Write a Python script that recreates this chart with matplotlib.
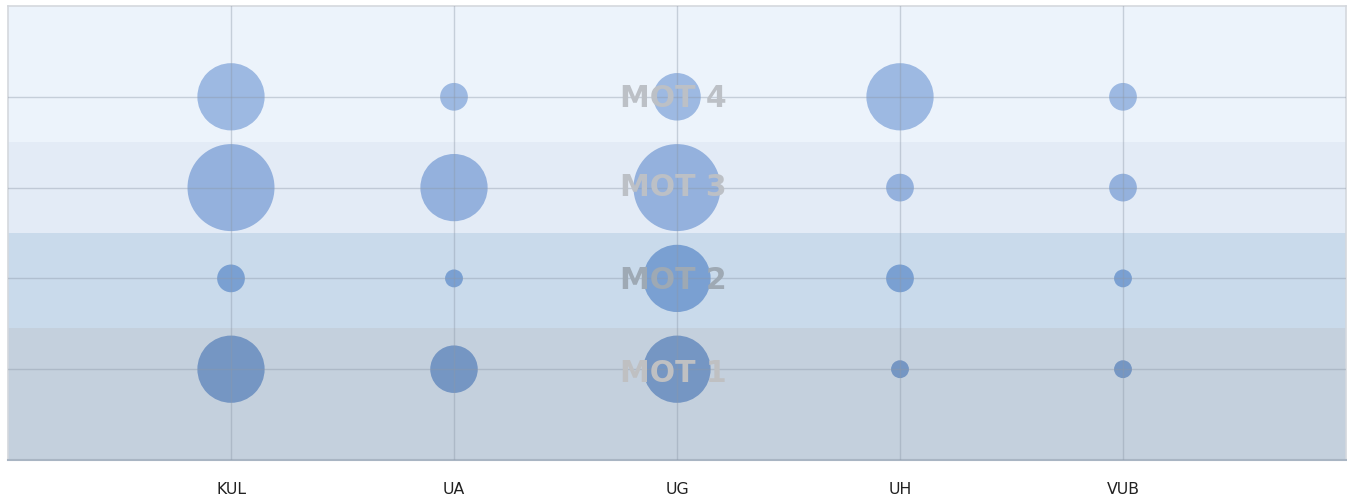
import matplotlib
matplotlib.use("Agg")
import matplotlib.pyplot as plt

# data
universities = ["KUL", "UA", "UG", "UH", "VUB"]
levels = ["MOT 1", "MOT 2", "MOT 3", "MOT 4"]
# bubble values per level (rows) and university (columns)
mot1 = [6, 4, 6, 1, 1]
mot2 = [2, 1, 6, 2, 1]
mot3 = [8, 6, 8, 2, 2]
mot4 = [6, 2, 4, 6, 2]
band_edges = [0, 1.45, 2.5, 3.5, 5]

DPI = 100
fig = plt.figure(figsize=(13.47, 4.97), dpi=DPI)
ax = fig.add_axes([8 / 1347, 37 / 497, 1338 / 1347, 454 / 497])

# bubble diameter in px grows linearly with value
vmax = 8.0
def marker_area(v):
    d_px = 8 + v / vmax * 79
    return (d_px * 72 / DPI) ** 2

xs = list(range(1, len(universities) + 1))
for lvl, row in enumerate([mot1, mot2, mot3, mot4], start=1):
    ax.scatter(xs, [lvl] * len(xs), s=[marker_area(v) for v in row],
               color="#5f89cb", edgecolors="none", zorder=1)

# translucent bands laid over the bubbles
band_colors = ["#8ba3bd", "#95b7d9", "#c9d9ef", "#dbe9f9"]
for i, c in enumerate(band_colors):
    ax.axhspan(band_edges[i], band_edges[i + 1], color=c, alpha=0.5, lw=0, zorder=2)

# grid
for x in xs:
    ax.axvline(x, color="#8c98a8", lw=1, alpha=0.4, zorder=3)
for y in range(1, 5):
    ax.axhline(y, color="#8c98a8", lw=1, alpha=0.4, zorder=3)

label_y = [0.95, 1.98, 3.0, 3.98]
label_colors = ["#bfc0c2", "#9ea9b4", "#bcc0c6", "#bcc0c6"]
for name, y, c in zip(levels, label_y, label_colors):
    ax.text(2.985, y, name, ha="center", va="center", fontsize=21.5,
            fontweight="bold", color=c, zorder=4)

ax.set_xlim(0, 6)
ax.set_ylim(0, 5)
ax.set_xticks(xs)
ax.set_xticklabels(universities, fontsize=11.3, color="#222222")
ax.set_yticks([])
ax.tick_params(axis="x", length=0, pad=16)

for side in ["left", "top", "right"]:
    ax.spines[side].set_color("#d4d8dd")
    ax.spines[side].set_linewidth(1.2)
ax.spines["bottom"].set_color("#a9b5c3")
ax.spines["bottom"].set_linewidth(1.5)

fig.savefig("out.png", dpi=DPI)
plt.close(fig)
